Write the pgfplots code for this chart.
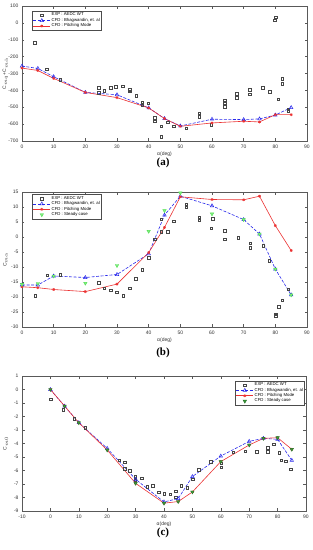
\documentclass[border=0pt]{standalone}
\usepackage{fontspec}
\setmainfont{Liberation Sans}
\newfontfamily\capfont{Liberation Serif}
\usepackage{pgfplots}
\pgfplotsset{compat=1.18}
\definecolor{cfdblue}{RGB}{40,40,235}
\definecolor{cfdred}{RGB}{235,50,50}
\definecolor{stgreen}{RGB}{80,225,80}
\definecolor{expgray}{RGB}{70,70,70}
\pgfplotsset{
 mstyle/.style={
  scale only axis, width=285pt, height=135pt,
  axis line style={black!65, line width=0.4pt},
  tick style={black!65, line width=0.4pt},
  tick align=inside, major tick length=2.5pt,
  ticklabel style={font=\fontsize{5}{6}\selectfont, text=black!80},
  /pgf/number format/assume math mode=true,
  label style={font=\fontsize{5}{6}\selectfont, text=black!80},
  xlabel={α(deg)},
  xlabel style={yshift=3pt},
  ylabel style={at={(rel axis cs:-0.058,0.5)}, anchor=center},
  legend cell align=left,
  legend style={font=\fontsize{4.3}{5}\selectfont, draw=black!70, line width=0.4pt, inner sep=0.8pt, row sep=-1.2pt, nodes={inner sep=1pt}},
 },
 expstyle/.style={only marks, mark=square, mark size=1.3pt, color=expgray, mark options={line width=0.3pt, solid}},
 bhstyle/.style={color=cfdblue, dashed, dash pattern=on 3pt off 1.5pt, line width=0.6pt, mark=triangle, mark size=2pt, mark options={solid, line width=0.5pt}},
 pmstyle/.style={color=cfdred, solid, line width=0.6pt, mark=asterisk, mark size=1.4pt, mark options={line width=0.7pt}},
 ststyle/.style={only marks, color=stgreen, mark=triangle*, mark size=2pt, mark options={rotate=180, fill=stgreen!70, line width=0.4pt}},
}
\begin{document}
\begin{tikzpicture}
\useasboundingbox (0,0) rectangle (313pt,550pt);
% ---------------- (a)
\begin{axis}[mstyle, at={(22pt,409pt)}, anchor=south west,
  xmin=0, xmax=90, ymin=-700, ymax=100,
  xtick={0,10,...,90}, ytick={-700,-600,...,100},
  ylabel={C$_{mq}$+C$_{m\dot{\alpha}}$},
  legend style={at={(0.035,0.963)}, anchor=north west}]
\addplot[expstyle] coordinates {
(4.0,-118) (7.7,-274) (12.0,-337) (24.2,-384) (24.2,-414) (25.9,-402) (27.9,-384) (29.6,-378)
(31.8,-374) (33.9,-396) (33.9,-404) (36.0,-432) (37.9,-473) (37.9,-485) (39.8,-475) (41.8,-560)
(41.8,-583) (44.0,-611) (44.0,-674) (45.9,-589) (47.8,-611) (51.8,-625) (55.9,-534) (55.9,-554)
(59.7,-603) (63.9,-459) (63.9,-475) (63.9,-495) (67.8,-420) (67.8,-443) (71.9,-396) (71.9,-422)
(75.9,-384) (78.2,-406) (80.1,35) (79.8,15) (80.9,-451) (82.1,-329) (82.1,-361) (84.0,-512) (84.0,-520)};
\addlegendentry{EXP : AEDC WT}
\addplot[bhstyle] coordinates {
(0,-256) (5,-270) (10,-319) (20,-412) (30,-426) (40,-504) (45,-567) (50,-611) (60,-571) (70,-573) (75,-569) (80,-546) (85,-502)};
\addlegendentry{CFD : Bhagwandin, et. al}
\addplot[pmstyle] coordinates {
(0,-268) (5,-282) (10,-329) (20,-412) (30,-443) (40,-504) (45,-567) (50,-613) (60,-593) (70,-583) (75,-587) (80,-544) (85,-544)};
\addlegendentry{CFD : Pitching Mode}
\end{axis}
% ---------------- (b)
\begin{axis}[mstyle, at={(22pt,223pt)}, anchor=south west,
  xmin=0, xmax=90, ymin=-30, ymax=15,
  xtick={0,10,...,90}, ytick={-30,-25,...,15},
  ylabel={C$_{m\alpha}$},
  legend style={at={(0.035,0.983)}, anchor=north west}]
\addplot[expstyle] coordinates {
(4.1,-19.5) (8.0,-12.7) (12.0,-12.5) (24.2,-15.3) (25.9,-17.0) (27.9,-17.7) (29.8,-18.4) (31.9,-19.5)
(34.0,-17.0) (35.9,-13.8) (37.9,-10.9) (39.9,-6.9) (41.8,-0.7) (43.9,1.8) (43.9,6.0) (45.9,1.8)
(47.8,5.3) (51.8,11.0) (51.8,10.0) (55.9,6.5) (55.9,5.8) (59.7,2.9) (60.2,6.1) (63.9,2.2) (63.9,-0.7)
(68.2,-0.2) (72.1,-2.0) (72.1,-3.6) (76.2,-2.8) (78.1,-7.8) (82.1,-21.0) (81.1,-23.2) (80.1,-25.7)
(80.1,-26.3) (84.1,-17.4)};
\addlegendentry{EXP : AEDC WT}
\addplot[bhstyle] coordinates {
(0,-16.0) (5,-16.0) (10,-13.0) (20,-13.5) (30,-12.5) (40,-5.6) (45,7.3) (50,13.6) (60,10.4) (70,5.8) (75,1.0) (80,-10.7) (85,-19.3)};
\addlegendentry{CFD : Bhagwandin, et. al}
\addplot[pmstyle] coordinates {
(0,-16.6) (5,-16.9) (10,-17.5) (20,-18.2) (30,-15.7) (40,-5.2) (45,3.2) (50,13.4) (60,12.5) (70,12.4) (75,13.6) (80,3.8) (85,-4.5)};
\addlegendentry{CFD : Pitching Mode}
\addplot[ststyle] coordinates {
(0,-15.8) (5,-15.5) (10,-13.0) (20,-15.4) (30,-9.5) (40,1.9) (45,8.8) (50,14.7) (60,7.7) (70,5.8) (75,1.0) (80,-10.7) (85,-19.3)};
\addlegendentry{CFD : Steady case}
\end{axis}
% ---------------- (c)
\begin{axis}[mstyle, at={(22pt,39pt)}, anchor=south west, width=284pt,
  xmin=-10, xmax=90, ymin=-9, ymax=1,
  xtick={-10,0,...,90}, ytick={-9,-8,...,1},
  ylabel={C$_{m0}$},
  legend style={at={(0.996,0.965)}, anchor=north east}]
\addplot[expstyle] coordinates {
(0.1,-0.71) (4.5,-1.48) (8.4,-2.14) (12.2,-2.83) (24.2,-5.22) (26.1,-5.37) (26.1,-5.86) (28.0,-6.01)
(29.9,-6.45) (29.9,-6.70) (32.2,-6.58) (34.1,-7.19) (36.1,-7.14) (38.1,-7.61) (40.1,-7.71) (42.2,-7.76)
(44.0,-7.54) (44.0,-7.98) (46.0,-7.14) (48.2,-7.27) (50.1,-6.65) (52.2,-5.94) (56.4,-5.35) (60.1,-5.47)
(60.1,-5.74) (64.4,-4.63) (68.6,-4.56) (72.6,-4.61) (76.6,-4.31) (76.6,-4.61) (78.6,-4.06) (80.6,-4.68)
(81.3,-5.22) (82.9,-5.30) (84.6,-5.91)};
\addlegendentry{EXP : AEDC WT}
\addplot[bhstyle] coordinates {
(0,0) (5,-1.23) (10,-2.46) (20,-4.36) (30,-6.65) (40,-8.33) (45,-8.08) (50,-6.45) (60,-4.93) (70,-3.84) (75,-3.62) (80,-3.69) (85,-5.25)};
\addlegendentry{CFD : Bhagwandin, et. al}
\addplot[pmstyle] coordinates {
(0,0) (5,-1.23) (10,-2.46) (20,-4.48) (30,-6.95) (40,-8.42) (45,-8.30) (50,-7.59) (60,-5.34) (70,-4.11) (75,-3.62) (80,-3.57) (85,-4.43)};
\addlegendentry{CFD : Pitching Mode}
\addplot[ststyle, mark options={rotate=180, fill=stgreen!70!black, draw=stgreen!50!black, line width=0.4pt}] coordinates {
(0,0) (5,-1.23) (10,-2.46) (20,-4.48) (30,-6.95) (40,-8.42) (45,-8.30) (50,-7.59) (60,-5.34) (70,-4.11) (75,-3.62) (80,-3.57) (85,-4.43)};
\addlegendentry{CFD : Steady case}
\end{axis}
\node[font=\capfont\bfseries\fontsize{11}{12}\selectfont] at (163pt,387pt) {(a)};
\node[font=\capfont\bfseries\fontsize{11}{12}\selectfont] at (163pt,197pt) {(b)};
\node[font=\capfont\bfseries\fontsize{11}{12}\selectfont] at (163pt,17pt) {(c)};
\end{tikzpicture}
\end{document}
